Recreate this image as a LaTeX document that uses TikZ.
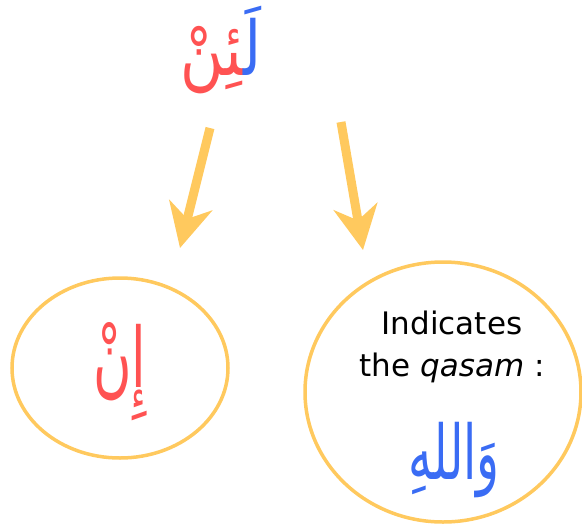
\documentclass[tikz,border=0pt]{standalone}
\usepackage{fontspec}
\setmainfont{DejaVu Sans}
\newfontfamily\arabicfont[Script=Arabic]{DejaVu Sans}
\TeXXeTstate=1
\usetikzlibrary{arrows.meta,shapes.geometric}
\definecolor{wred}{HTML}{FF5252}
\definecolor{wblue}{HTML}{3A6CF4}
\definecolor{wgold}{HTML}{FFC95E}
\newcommand{\tallar}[2][0.82]{\scalebox{#1}[1.3]{\arabicfont\beginR #2\endR}}
\tikzset{
  bubble/.style={draw=wgold,line width=3.5pt,ellipse,inner sep=0pt},
  branch/.style={wgold,line width=9pt,-{Stealth[length=44pt,width=44pt,inset=14pt]}},
  arword/.style={font=\fontsize{58}{70}\selectfont,inner sep=0pt},
  note/.style={font=\fontsize{31}{37}\selectfont}
}

\begin{document}
\begin{tikzpicture}[x=1pt,y=-1pt]
\useasboundingbox (0,0) rectangle (582,523);
\node[arword,text=wred] (lainR) at (212,60) {\tallar[1.02]{^^^^200dئِنْ}};
\node[arword,text=wblue,anchor=base west] (lainL) at (lainR.base east) {\tallar[1.02]{لَ^^^^200d}};
\coordinate (l0) at (210,128); \coordinate (l1) at (180,248);
\coordinate (r0) at (341,122); \coordinate (r1) at (363,250);
\draw[branch] (l0) -- (l1);
\draw[branch] (r0) -- (r1);
\node[bubble,minimum width=216pt,minimum height=180pt] (in) at (120,368) {};
\node[arword,text=wred,font=\fontsize{64}{76}\selectfont] (inw) at (120,372) {\tallar{إِنْ}};
\node[bubble,minimum width=276pt,minimum height=260pt] (qsm) at (443,392) {};
\node[note] (ind) at (452,323) {Indicates};
\node[note] (the) at (452,368) {the \textit{qasam} :};
\node[arword,text=wblue] (wal) at (454,460) {\tallar{وَاللهِ}};
\end{tikzpicture}
\end{document}
